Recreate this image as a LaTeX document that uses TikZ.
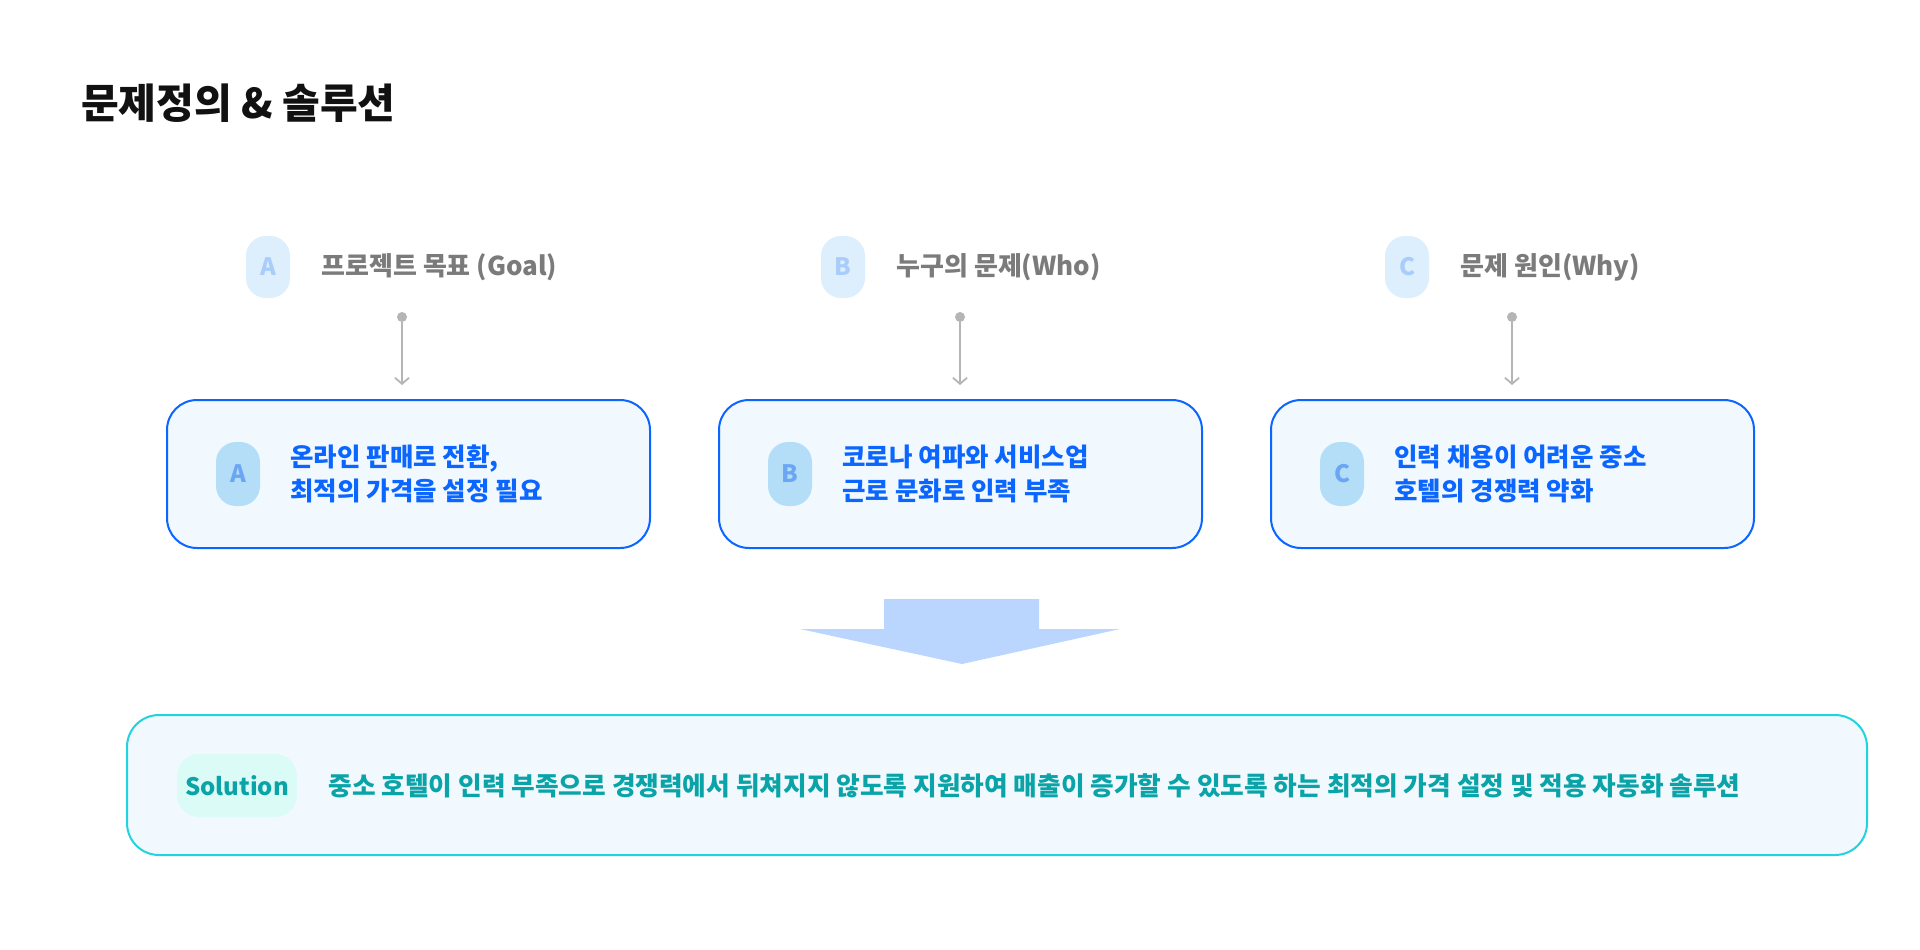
\documentclass[tikz,border=0pt]{standalone}
\usepackage{fontspec}
\setmainfont{Noto Sans CJK KR}
\usetikzlibrary{arrows.meta,positioning}

\definecolor{titleblack}{HTML}{111111}
\definecolor{labelgray}{HTML}{7B7B7B}
\definecolor{linegray}{HTML}{B5B5B5}
\definecolor{tagpale}{HTML}{DDEEFC}
\definecolor{tagpaletext}{HTML}{A9CDFB}
\definecolor{boxblue}{HTML}{0A66FF}
\definecolor{boxfill}{HTML}{F1F9FF}
\definecolor{tagfill}{HTML}{B4DEF7}
\definecolor{tagtext}{HTML}{6BA6F4}
\definecolor{arrowblue}{HTML}{BAD6FF}
\definecolor{solcyan}{HTML}{22D3DE}
\definecolor{soltagfill}{HTML}{DBFBF6}
\definecolor{solteal}{HTML}{0AA4A8}

\begin{document}
\begin{tikzpicture}[x=1pt,y=-1pt,
  toptag/.style={fill=tagpale,text=tagpaletext,rounded corners=20,minimum width=44,minimum height=62,inner sep=0,font=\fontsize{24}{28}\selectfont\bfseries},
  toplabel/.style={text=labelgray,inner sep=0,anchor=west,font=\fontsize{26}{30}\selectfont\bfseries},
  dotmark/.style={circle,fill=linegray,inner sep=0,minimum size=10},
  conn/.style={draw=linegray,line width=1.8,-{Straight Barb[length=6pt,width=14pt]}},
  probbox/.style={draw=boxblue,line width=2,fill=boxfill,rounded corners=30,minimum width=483,minimum height=148},
  boxtag/.style={fill=tagfill,text=tagtext,rounded corners=20,minimum width=44,minimum height=64,inner sep=0,font=\fontsize{24}{28}\selectfont\bfseries},
  boxtext/.style={text=boxblue,inner sep=0,anchor=west,align=left,font=\fontsize{25.5}{34}\selectfont\bfseries},
  solbox/.style={draw=solcyan,line width=2,fill=boxfill,rounded corners=32,minimum width=1740,minimum height=140},
  soltag/.style={fill=soltagfill,text=solteal,rounded corners=22,minimum width=120,minimum height=63,inner sep=0,font=\fontsize{24}{28}\selectfont\bfseries},
  soltext/.style={text=solteal,inner sep=0,anchor=west,font=\fontsize{25.7}{34}\selectfont\bfseries}]
\fill[white] (0,0) rectangle (1920,950);
\useasboundingbox (0,0) rectangle (1920,950);

\node[anchor=west,inner sep=0,text=titleblack,font=\fontsize{41}{48}\selectfont\bfseries] (title) at (81,103) {문제정의 \& 솔루션};

% three columns: goal, who, why
\foreach \l/\bx/\tx/\dx/\head/\body in {
  A/167/246/402/{프로젝트 목표 (Goal)}/{온라인 판매로 전환,\\최적의 가격을 설정 필요},
  B/719/821/960/{누구의 문제(Who)}/{코로나 여파와 서비스업\\근로 문화로 인력 부족},
  C/1271/1385/1512/{문제 원인(Why)}/{인력 채용이 어려운 중소\\호텔의 경쟁력 약화}}{
  \node[toptag] (tag\l) at (\tx+22,267) {\l};
  \node[toplabel,right=31pt of tag\l] (head\l) {\head};
  \node[probbox] (box\l) at (\bx+241.5,474) {};
  \node[boxtag] (btag\l) at (\bx+71,474) {\l};
  \node[boxtext,right=30pt of btag\l] (btext\l) {\body};
  \node[dotmark] (dot\l) at (\dx,317) {};
  \draw[conn,shorten >=14pt] (dot\l) -- (dot\l |- box\l.north);
}

% big arrow down
\fill[arrowblue] (884,599) -- (1039,599) -- (1039,629) -- (1120,629) -- (962,664)
  -- (800,629) -- (884,629) -- cycle;

\node[solbox] (sol) at (997,785) {};
\node[soltag] (soltag) at (237,785.5) {Solution};
\node[soltext,right=31pt of soltag] (soltxt) {중소 호텔이 인력 부족으로 경쟁력에서 뒤쳐지지 않도록 지원하여 매출이 증가할 수 있도록 하는 최적의 가격 설정 및 적용 자동화 솔루션};
\end{tikzpicture}
\end{document}
